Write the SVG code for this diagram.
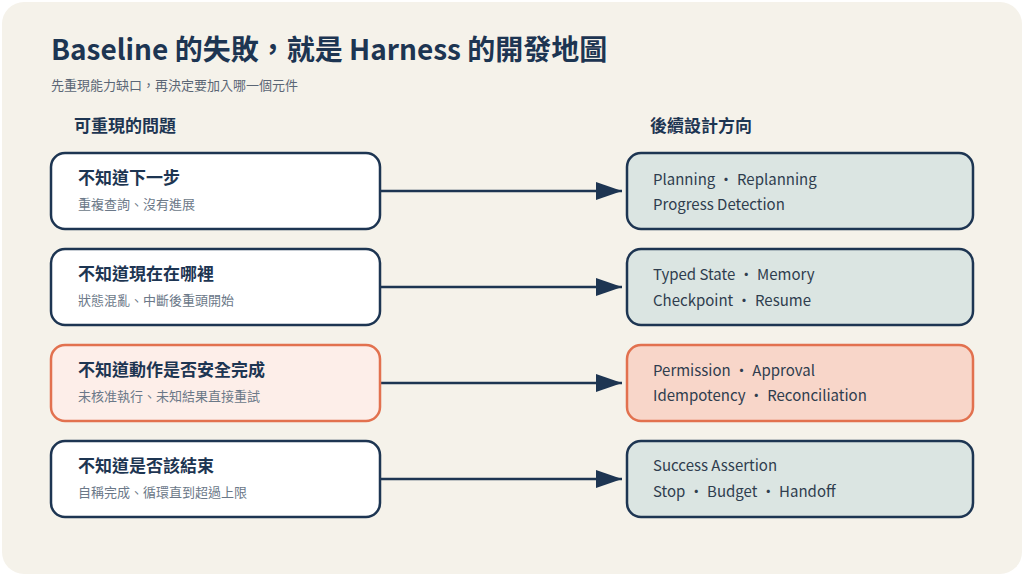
<svg xmlns="http://www.w3.org/2000/svg" width="1024" height="576" viewBox="0 0 1024 576">
<style>
text{font-family:"Noto Sans CJK TC","Noto Sans",sans-serif}
.t{font-size:28px;font-weight:700;fill:#1d3552}
.sub{font-size:13px;fill:#5b6675}
.h{font-size:17px;font-weight:700;fill:#1d3552}
.lb{fill:#fff;stroke:#1d3552;stroke-width:2.5}
.lbw{fill:#fdeee9;stroke:#e2714f;stroke-width:2.5}
.rb{fill:#dbe5e2;stroke:#1d3552;stroke-width:2.5}
.rbw{fill:#f8d6c9;stroke:#e2714f;stroke-width:2.5}
.n{font-size:17px;font-weight:700;fill:#1d3552}
.d{font-size:13px;fill:#6b7888}
.r{font-size:15px;fill:#2f3d4e}
.c{stroke:#1d3552;stroke-width:2.5;fill:none}
</style>
<defs><marker id="a" markerWidth="10" markerHeight="10" refX="9" refY="5" orient="auto" markerUnits="userSpaceOnUse" viewBox="0 0 10 10"><path d="M0,0L10,5L0,10z" fill="#1d3552"/></marker>
<marker id="ah" viewBox="0 0 26 18" refX="26" refY="9" markerWidth="26" markerHeight="18" orient="auto" markerUnits="userSpaceOnUse"><path d="M0,0L26,9L0,18z" fill="#1d3552"/></marker></defs>
<rect width="1024" height="576" fill="#fff"/>
<rect x="2" y="2" width="1020" height="572" rx="22" fill="#f5f2ea"/>
<text class="t" x="51" y="60">Baseline 的失敗，就是 Harness 的開發地圖</text>
<text class="sub" x="51" y="90">先重現能力缺口，再決定要加入哪一個元件</text>
<text class="h" x="74" y="132">可重現的問題</text>
<text class="h" x="650" y="132">後續設計方向</text>
<g id="connectors">
<path class="c" d="M380 191H622" marker-end="url(#ah)"/>
<path class="c" d="M380 287H622" marker-end="url(#ah)"/>
<path class="c" d="M380 383H622" marker-end="url(#ah)"/>
<path class="c" d="M380 479H622" marker-end="url(#ah)"/>
</g>
<g id="p1"><rect class="lb" x="51" y="153" width="329" height="76" rx="14"/><text class="n" x="78" y="184">不知道下一步</text><text class="d" x="78" y="209">重複查詢、沒有進展</text></g>
<g id="p2"><rect class="lb" x="51" y="249" width="329" height="76" rx="14"/><text class="n" x="78" y="280">不知道現在在哪裡</text><text class="d" x="78" y="305">狀態混亂、中斷後重頭開始</text></g>
<g id="p3"><rect class="lbw" x="51" y="345" width="329" height="76" rx="14"/><text class="n" x="78" y="376">不知道動作是否安全完成</text><text class="d" x="78" y="401">未核准執行、未知結果直接重試</text></g>
<g id="p4"><rect class="lb" x="51" y="441" width="329" height="76" rx="14"/><text class="n" x="78" y="472">不知道是否該結束</text><text class="d" x="78" y="497">自稱完成、循環直到超過上限</text></g>
<g id="s1"><rect class="rb" x="627" y="153" width="346" height="76" rx="14"/><text class="r" x="653" y="185">Planning ・ Replanning</text><text class="r" x="653" y="210">Progress Detection</text></g>
<g id="s2"><rect class="rb" x="627" y="249" width="346" height="76" rx="14"/><text class="r" x="653" y="280">Typed State ・ Memory</text><text class="r" x="653" y="306">Checkpoint ・ Resume</text></g>
<g id="s3"><rect class="rbw" x="627" y="345" width="346" height="76" rx="14"/><text class="r" x="653" y="376">Permission ・ Approval</text><text class="r" x="653" y="401">Idempotency ・ Reconciliation</text></g>
<g id="s4"><rect class="rb" x="627" y="441" width="346" height="76" rx="14"/><text class="r" x="653" y="471">Success Assertion</text><text class="r" x="653" y="497">Stop ・ Budget ・ Handoff</text></g>
</svg>
